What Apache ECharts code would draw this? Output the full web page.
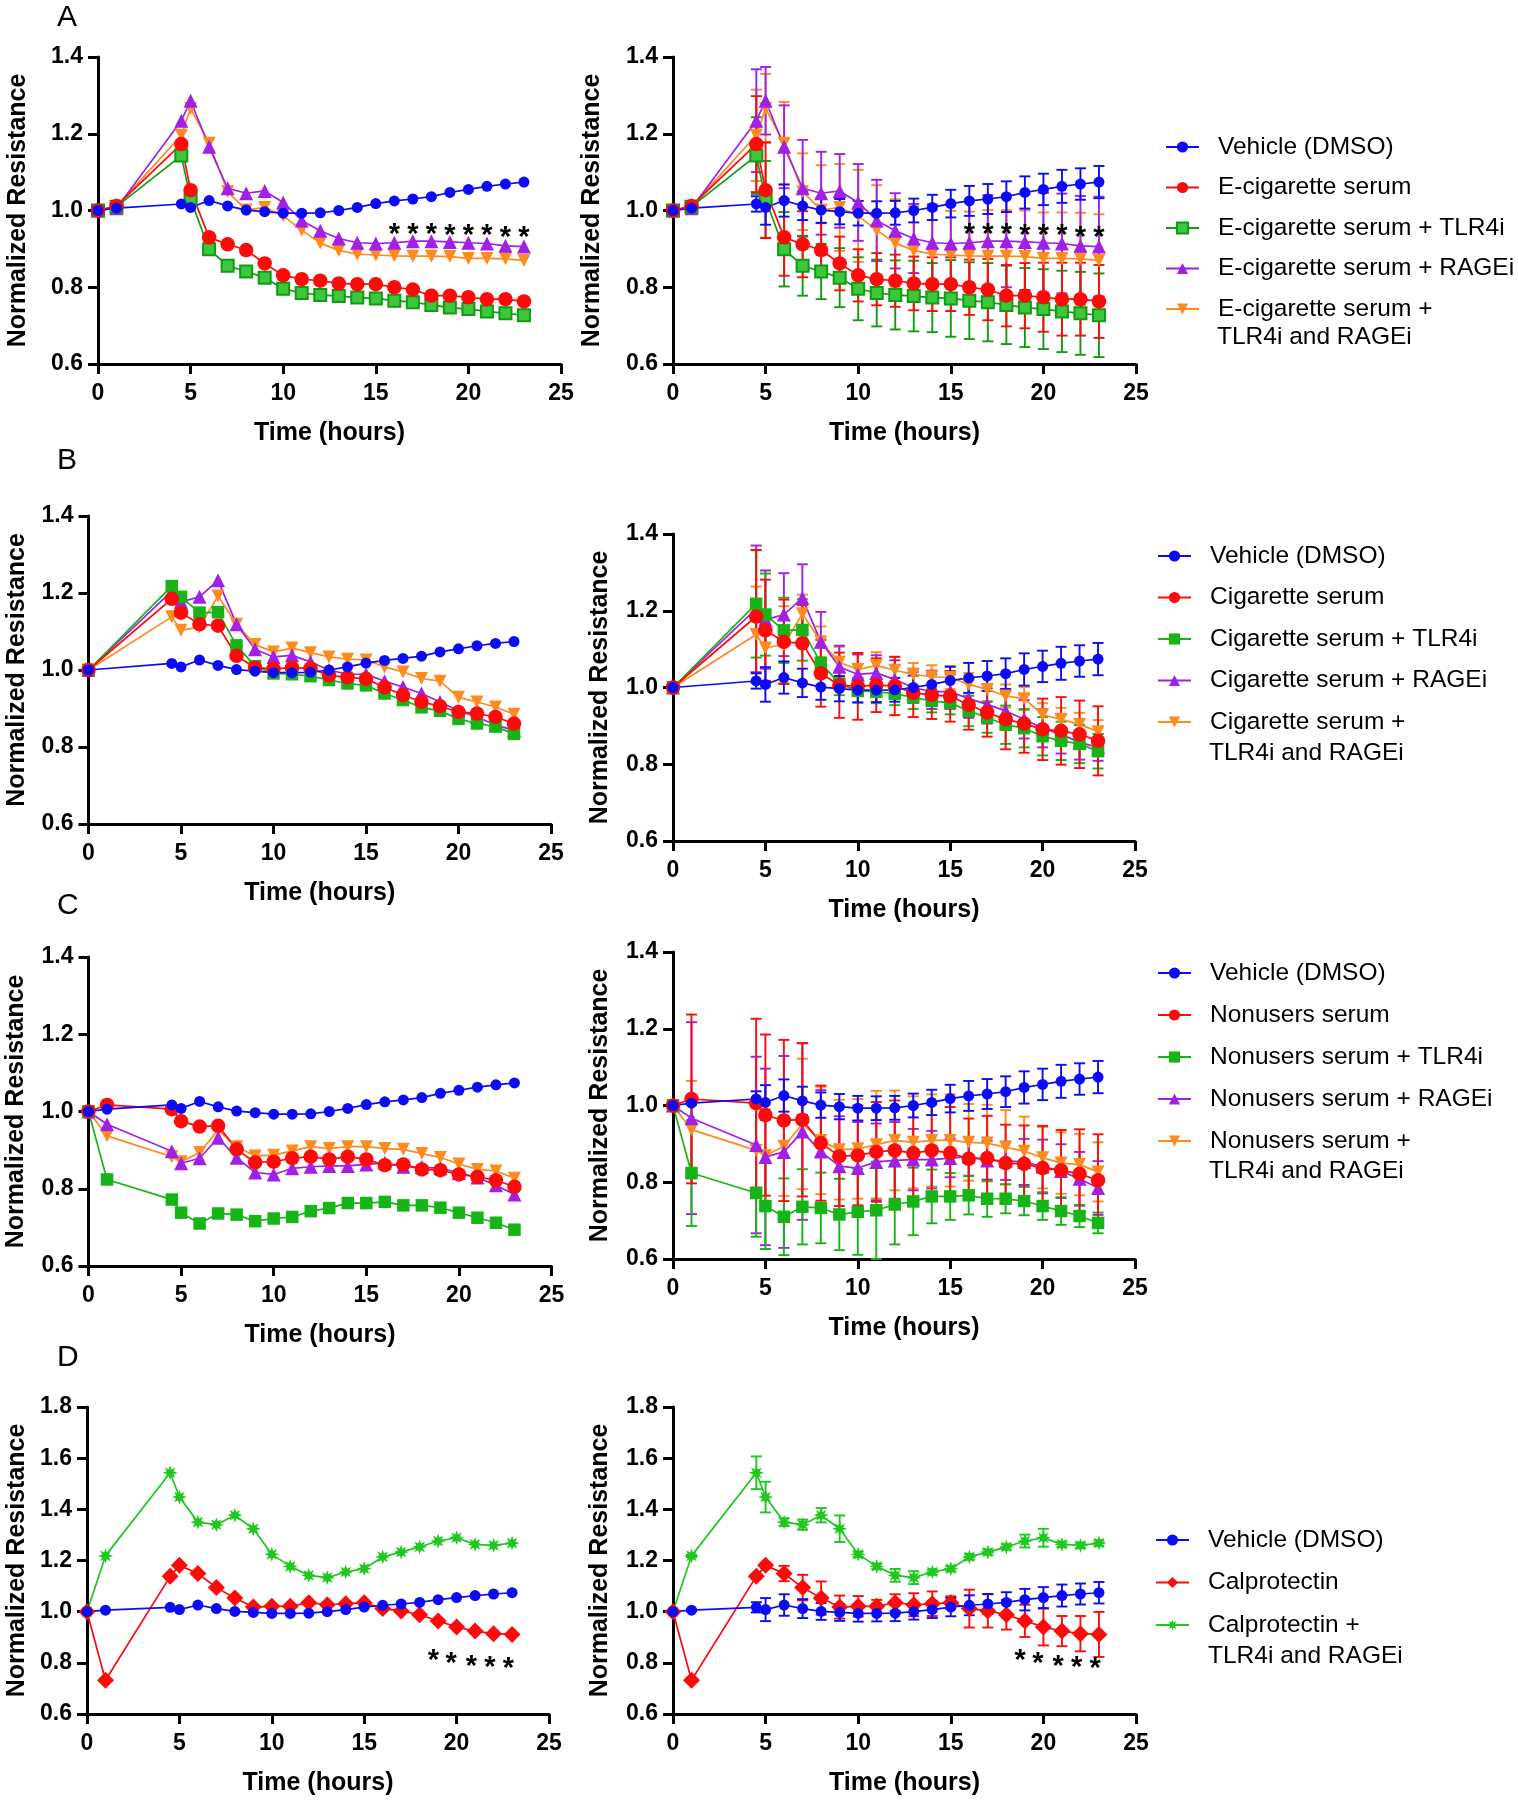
<!DOCTYPE html>
<html><head><meta charset="utf-8">
<script src="https://cdn.jsdelivr.net/npm/echarts@6/dist/echarts.min.js"></script>
<style>html,body{margin:0;padding:0;background:#fff}#c{width:1518px;height:1800px}</style>
</head><body><div id="c"></div><script>
// ---------- DATA ----------
const T  = [0,1,4.5,5,6,7,8,9,10,11,12,13,14,15,16,17,18,19,20,21,22,23];
const TB = [0,4.5,5,6,7,8,9,10,11,12,13,14,15,16,17,18,19,20,21,22,23];
const xTicks = [0,5,10,15,20,25];

const vehicle   = [1.000,1.006,1.017,1.008,1.026,1.012,1.001,0.997,0.993,0.993,0.994,1.000,1.008,1.018,1.025,1.030,1.036,1.047,1.055,1.063,1.069,1.074];
const vehicleSD = [0,0.004,0.02,0.045,0.042,0.037,0.033,0.033,0.032,0.031,0.031,0.031,0.033,0.036,0.039,0.039,0.040,0.042,0.041,0.043,0.041,0.042];
const vehicleB   = [1.000,1.017,1.008,1.026,1.012,1.001,0.997,0.993,0.993,0.994,1.000,1.008,1.018,1.025,1.030,1.036,1.047,1.055,1.063,1.069,1.074];
const vehicleBSD = [0,0.02,0.045,0.042,0.037,0.033,0.033,0.032,0.031,0.031,0.031,0.033,0.036,0.039,0.039,0.040,0.042,0.041,0.043,0.041,0.042];

// A: E-cigarette serum
const ecig      = [1.000,1.012,1.173,1.053,0.930,0.912,0.897,0.862,0.831,0.821,0.817,0.810,0.808,0.808,0.800,0.794,0.778,0.778,0.774,0.769,0.769,0.763];
const ecigSD    = [0,0.005,0.125,0.125,0.10,0.086,0.07,0.07,0.068,0.068,0.068,0.07,0.07,0.07,0.072,0.08,0.08,0.085,0.09,0.095,0.095,0.095];
const ecigTLR   = [1.000,1.010,1.143,1.029,0.899,0.856,0.841,0.825,0.796,0.785,0.780,0.777,0.773,0.771,0.765,0.761,0.754,0.747,0.743,0.737,0.732,0.727];
const ecigTLRSD = [0,0.005,0.10,0.10,0.097,0.078,0.072,0.077,0.082,0.087,0.09,0.092,0.09,0.10,0.10,0.102,0.102,0.103,0.104,0.106,0.108,0.109];
const ecigRAGE   = [1.000,1.006,1.234,1.286,1.166,1.058,1.045,1.051,1.021,0.974,0.947,0.927,0.916,0.914,0.916,0.920,0.920,0.918,0.916,0.914,0.908,0.906];
const ecigRAGESD = [0,0.005,0.134,0.088,0.108,0.126,0.108,0.096,0.10,0.106,0.098,0.09,0.10,0.10,0.11,0.12,0.12,0.125,0.13,0.13,0.13,0.13];
const ecigBoth   = [1.000,1.010,1.196,1.266,1.175,1.049,1.001,1.008,0.986,0.949,0.915,0.896,0.886,0.884,0.882,0.881,0.881,0.880,0.875,0.875,0.874,0.870];
const ecigBothSD = [0,0.005,0.119,0.09,0.108,0.10,0.117,0.113,0.12,0.117,0.114,0.115,0.115,0.115,0.115,0.12,0.12,0.12,0.12,0.12,0.12,0.12];
const starsA_t = [16,17,18,19,20,21,22,23];
const starsA_y = [0.953,0.953,0.953,0.949,0.949,0.949,0.943,0.943];

// B: Cigarette serum (no 1 h reading)
const cig      = [1.000,1.185,1.149,1.119,1.115,1.037,1.006,1.003,1.006,1.004,0.986,0.981,0.977,0.955,0.935,0.917,0.906,0.891,0.887,0.878,0.861];
const cigSD    = [0,0.173,0.132,0.11,0.10,0.087,0.085,0.087,0.07,0.076,0.063,0.063,0.066,0.065,0.063,0.078,0.076,0.08,0.088,0.088,0.09];
const cigTLR   = [1.000,1.218,1.190,1.149,1.150,1.064,1.010,0.991,0.989,0.984,0.974,0.965,0.960,0.939,0.922,0.903,0.894,0.873,0.861,0.853,0.834];
const cigTLRSD = [0,0.14,0.107,0.085,0.08,0.04,0.03,0.03,0.03,0.03,0.03,0.03,0.03,0.04,0.04,0.05,0.05,0.05,0.05,0.05,0.045];
const cigRAGE   = [1.000,1.205,1.177,1.190,1.233,1.119,1.054,1.034,1.038,1.021,1.000,0.989,0.989,0.971,0.956,0.939,0.917,0.894,0.878,0.857,0.844];
const cigRAGESD = [0,0.165,0.128,0.108,0.088,0.078,0.055,0.052,0.046,0.05,0.04,0.045,0.045,0.05,0.05,0.05,0.05,0.05,0.05,0.045,0.035];
const cigBoth   = [1.000,1.138,1.103,1.112,1.192,1.119,1.066,1.047,1.057,1.045,1.034,1.028,1.026,1.008,0.995,0.978,0.971,0.929,0.917,0.904,0.885];
const cigBothSD = [0,0.125,0.10,0.10,0.05,0.04,0.04,0.04,0.035,0.035,0.03,0.03,0.03,0.03,0.03,0.03,0.03,0.03,0.03,0.03,0.03];

// C: Nonusers serum
const non      = [1.000,1.017,1.006,0.975,0.961,0.963,0.902,0.868,0.870,0.879,0.883,0.876,0.883,0.876,0.861,0.863,0.850,0.848,0.837,0.831,0.822,0.805];
const nonSD    = [0,0.22,0.22,0.21,0.21,0.20,0.15,0.13,0.13,0.13,0.13,0.12,0.12,0.12,0.105,0.11,0.10,0.10,0.11,0.105,0.116,0.12];
const nonTLR   = [1.000,0.824,0.772,0.738,0.710,0.736,0.733,0.716,0.723,0.727,0.742,0.750,0.763,0.763,0.766,0.757,0.757,0.751,0.738,0.725,0.712,0.694];
const nonTLRSD = [0,0.138,0.114,0.112,0.10,0.098,0.092,0.093,0.112,0.127,0.104,0.088,0.07,0.061,0.05,0.047,0.038,0.037,0.036,0.036,0.029,0.027];
const nonRAGE   = [1.000,0.967,0.897,0.866,0.879,0.932,0.880,0.842,0.837,0.853,0.857,0.859,0.859,0.863,0.867,0.857,0.856,0.853,0.841,0.829,0.809,0.785];
const nonRAGESD = [0,0.25,0.23,0.23,0.25,0.23,0.16,0.13,0.12,0.10,0.10,0.08,0.075,0.05,0.05,0.05,0.05,0.06,0.07,0.07,0.07,0.07];
const nonBoth   = [1.000,0.937,0.883,0.870,0.894,0.952,0.909,0.885,0.887,0.898,0.909,0.904,0.909,0.909,0.904,0.902,0.891,0.881,0.864,0.850,0.846,0.827];
const nonBothSD = [0,0.127,0.12,0.12,0.13,0.17,0.14,0.13,0.13,0.14,0.13,0.12,0.12,0.12,0.10,0.10,0.097,0.09,0.08,0.08,0.08,0.077];

// D: Calprotectin
const calpro     = [1.000,0.732,1.138,1.181,1.149,1.094,1.053,1.018,1.021,1.021,1.035,1.027,1.031,1.035,1.012,1.003,0.988,0.964,0.940,0.924,0.914,0.911];
const calproSD   = [0,0.005,0.01,0.01,0.03,0.05,0.065,0.045,0.04,0.025,0.033,0.045,0.048,0.025,0.074,0.065,0.058,0.063,0.072,0.059,0.069,0.088];
const calproBoth   = [1.000,1.218,1.543,1.448,1.350,1.340,1.377,1.324,1.224,1.177,1.142,1.133,1.155,1.168,1.214,1.233,1.253,1.276,1.289,1.263,1.259,1.268];
const calproBothSD = [0,0.005,0.064,0.06,0.015,0.02,0.028,0.052,0.01,0.01,0.025,0.025,0.01,0.01,0.01,0.01,0.01,0.025,0.035,0.01,0.01,0.01];
const starsD_t = [18.75,19.7,20.8,21.8,22.8];
const starsD_y = [0.829,0.819,0.806,0.803,0.801];

// ---------- STYLES ----------
const FONT = "'Liberation Sans', Arial, Helvetica, sans-serif";
const C = {veh:'#0b0bf5', ser:'#ff0a0a', tlr:'#16b416', rage:'#a21fe6', both:'#ff8a1e'};
const STAR = (function(){
  let p = [];
  for (let i = 0; i < 16; i++) {
    const a = i * Math.PI / 8 - Math.PI / 2, r = (i % 2 === 0) ? 10 : 4.8;
    p.push((10 + r * Math.cos(a)).toFixed(2) + ' ' + (10 + r * Math.sin(a)).toFixed(2));
  }
  return 'path://M' + p.join(' L') + ' Z';
})();
const ST = {
  veh:  {color:C.veh,  symbol:'circle',   size:11},
  ser:  {color:C.ser,  symbol:'circle',   size:14.5},
  tlrA: {color:'#3cc83c', border:'#119b11', symbol:'rect', size:12},
  tlr:  {color:C.tlr,  symbol:'rect',     size:12.5},
  rage: {color:C.rage, symbol:'triangle', size:14},
  both: {color:C.both, symbol:'triangle', size:13, rotate:180},
  cal:  {color:C.ser,  symbol:'diamond',  size:17},
  calB: {color:'#1ec81e', symbol:STAR,    size:15}
};

const grids = [
  {left:98,   top:57,   width:463, height:307},
  {left:673,  top:57,   width:463, height:307},
  {left:88.5, top:516,  width:462.5, height:308},
  {left:673,  top:534,  width:462, height:307},
  {left:88.5, top:957,  width:463, height:309},
  {left:673,  top:952,  width:462, height:307},
  {left:87,   top:1407, width:462, height:307},
  {left:673,  top:1407, width:463, height:307}
];
const yMax = [1.4,1.4,1.4,1.4,1.4,1.4,1.8,1.8];
const yGap = [67,68,59,60,59.5,60,57,60];

const labelStyle = {color:'#000', fontFamily:FONT, fontWeight:'bold', fontSize:23};
const axLine = {show:true, onZero:false, lineStyle:{color:'#000', width:3}};
const axTick = {show:true, length:10, lineStyle:{color:'#000', width:3}};

const xAxis = grids.map((g, i) => ({
  type:'value', gridIndex:i, min:xTicks[0], max:xTicks[xTicks.length-1], interval:5,
  axisLine:axLine, axisTick:axTick, splitLine:{show:false},
  axisLabel:Object.assign({margin:18}, labelStyle),
  name:'Time (hours)', nameLocation:'middle', nameGap:57,
  nameTextStyle:{color:'#000', fontFamily:FONT, fontWeight:'bold', fontSize:25}
}));
const yAxis = grids.map((g, i) => ({
  type:'value', gridIndex:i, min:0.6, max:yMax[i], interval:0.2,
  axisLine:axLine, axisTick:axTick, splitLine:{show:false},
  axisLabel:Object.assign({margin:15, formatter:v => v.toFixed(1)}, labelStyle),
  name:'Normalized Resistance', nameLocation:'middle', nameGap:yGap[i],
  nameTextStyle:{color:'#000', fontFamily:FONT, fontWeight:'bold', fontSize:25}
}));

const series = [];
function addLine(name, xs, ys, st, gi) {
  series.push({
    type:'line', name, xAxisIndex:gi, yAxisIndex:gi,
    data: xs.map((x, i) => [x, ys[i]]),
    symbol:st.symbol, symbolSize:st.size, symbolRotate:st.rotate || 0, showSymbol:true,
    lineStyle:{color:st.border || st.color, width:1.7},
    itemStyle:Object.assign({color:st.color}, st.border ? {borderColor:st.border, borderWidth:2} : {borderWidth:0}),
    emphasis:{disabled:true}, animation:false, z:3
  });
}
function addErr(xs, ys, sd, color, gi) {
  series.push({
    type:'custom', name:'_err', xAxisIndex:gi, yAxisIndex:gi,
    data: xs.map((x, i) => [x, ys[i], sd[i]]),
    renderItem: function (p, api) {
      const x = api.value(0), y = api.value(1), e = api.value(2);
      if (!e) return;
      const a = api.coord([x, y + e]), b = api.coord([x, y - e]);
      const s = {stroke:color, lineWidth:1.9, fill:null};
      return {type:'group', children:[
        {type:'line', shape:{x1:a[0], y1:a[1], x2:b[0], y2:b[1]}, style:s},
        {type:'line', shape:{x1:a[0]-5.5, y1:a[1], x2:a[0]+5.5, y2:a[1]}, style:s},
        {type:'line', shape:{x1:b[0]-5.5, y1:b[1], x2:b[0]+5.5, y2:b[1]}, style:s}
      ]};
    },
    animation:false, silent:true, z:3, clip:false
  });
}
function addStars(xs, ys, gi) {
  series.push({
    type:'custom', name:'_stars', xAxisIndex:gi, yAxisIndex:gi,
    data: xs.map((x, i) => [x, ys[i]]),
    renderItem: function (p, api) {
      const c = api.coord([api.value(0), api.value(1)]);
      return {type:'text', x:c[0], y:c[1] + 6,
        style:{text:'*', fill:'#000', fontSize:29, fontWeight:'bold', fontFamily:FONT, align:'center', verticalAlign:'middle'}};
    },
    animation:false, silent:true, z:5
  });
}

const nA = ['Vehicle (DMSO)','E-cigarette serum','E-cigarette serum + TLR4i','E-cigarette serum + RAGEi','E-cigarette serum + TLR4i and RAGEi'];
const nB = ['Vehicle (DMSO)','Cigarette serum','Cigarette serum + TLR4i','Cigarette serum + RAGEi','Cigarette serum + TLR4i and RAGEi'];
const nC = ['Vehicle (DMSO)','Nonusers serum','Nonusers serum + TLR4i','Nonusers serum + RAGEi','Nonusers serum + TLR4i and RAGEi'];
const nD = ['Vehicle (DMSO)','Calprotectin','Calprotectin + TLR4i and RAGEi'];

const panels = [
  {xs:T, names:nA, g:[0,1], sets:[
    [nA[4], ecigBoth, ecigBothSD, ST.both], [nA[3], ecigRAGE, ecigRAGESD, ST.rage],
    [nA[2], ecigTLR, ecigTLRSD, ST.tlrA], [nA[1], ecig, ecigSD, ST.ser], [nA[0], vehicle, vehicleSD, ST.veh]],
    stars:[starsA_t, starsA_y]},
  {xs:TB, names:nB, g:[2,3], sets:[
    [nB[4], cigBoth, cigBothSD, ST.both], [nB[3], cigRAGE, cigRAGESD, ST.rage],
    [nB[2], cigTLR, cigTLRSD, ST.tlr], [nB[1], cig, cigSD, ST.ser], [nB[0], vehicleB, vehicleBSD, ST.veh]]},
  {xs:T, names:nC, g:[4,5], sets:[
    [nC[4], nonBoth, nonBothSD, ST.both], [nC[3], nonRAGE, nonRAGESD, ST.rage],
    [nC[2], nonTLR, nonTLRSD, ST.tlr], [nC[1], non, nonSD, ST.ser], [nC[0], vehicle, vehicleSD, ST.veh]]},
  {xs:T, names:nD, g:[6,7], sets:[
    [nD[2], calproBoth, calproBothSD, ST.calB], [nD[1], calpro, calproSD, ST.cal], [nD[0], vehicle, vehicleSD, ST.veh]],
    stars:[starsD_t, starsD_y]}
];
panels.forEach(p => {
  p.sets.forEach(s => addLine(s[0], p.xs, s[1], s[3], p.g[0]));
  p.sets.forEach(s => { addErr(p.xs, s[1], s[2], s[3].border || s[3].color, p.g[1]); addLine(s[0], p.xs, s[1], s[3], p.g[1]); });
  if (p.stars) { addStars(p.stars[0], p.stars[1], p.g[0]); addStars(p.stars[0], p.stars[1], p.g[1]); }
});

const legendPos = [
  {left:1165, top:132, gap:10.5},
  {left:1157, top:541, gap:11.5},
  {left:1157, top:958, gap:12},
  {left:1155, top:1525, gap:12.5}
];
const legend = panels.map((p, i) => ({
  orient:'vertical', left:legendPos[i].left, top:legendPos[i].top, padding:0,
  itemGap:legendPos[i].gap, itemWidth:33, itemHeight:14, selectedMode:false,
  data:p.names.slice(),
  formatter: n => n.endsWith(' TLR4i and RAGEi') ? n.replace(' TLR4i and RAGEi', '') : n,
  textStyle:{color:'#000', fontFamily:FONT, fontSize:24.5, lineHeight:30, padding:[0,0,0,14]}
}));
const secondLines = [
  {x:1217, y:337}, {x:1209, y:753}, {x:1209, y:1171}, {x:1208, y:1656}
];
const graphic = secondLines.map(s => ({
  type:'text', left:s.x, top:s.y - 15,
  style:{text:'TLR4i and RAGEi', fill:'#000', fontFamily:FONT, fontSize:24.5, lineHeight:30}
}));

const letters = [['A',3],['B',446],['C',891],['D',1343]];
const title = letters.map(l => ({text:l[0], left:57, top:l[1], padding:0,
  textStyle:{color:'#000', fontFamily:FONT, fontWeight:'normal', fontSize:30}}));

const chart = echarts.init(document.getElementById('c'), null, {renderer:'canvas'});
chart.setOption({
  backgroundColor:'#fff', animation:false,
  title, grid:grids, xAxis, yAxis, legend, series, graphic
});
</script></body></html>
